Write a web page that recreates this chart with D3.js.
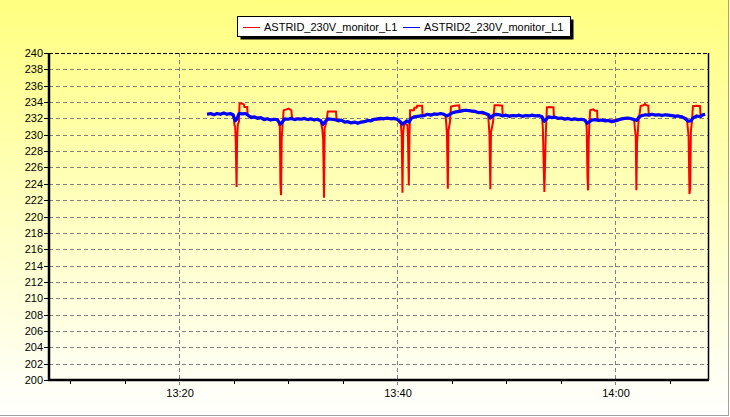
<!DOCTYPE html>
<html>
<head>
<meta charset="utf-8">
<script src="https://cdn.jsdelivr.net/npm/d3@7"></script>
<style>
  body { margin: 0; padding: 0; }
  svg { display: block; font-family: "Liberation Sans", Arial, sans-serif; }
</style>
</head>
<body>
<svg width="730" height="417"></svg>
<script>
// times are minutes after 13:00
var yTicks = [200,202,204,206,208,210,212,214,216,218,220,222,224,226,228,230,232,234,236,238,240];
var xTickLabels = ["13:20", "13:40", "14:00"];
var seriesNames = ["ASTRID_230V_monitor_L1", "ASTRID2_230V_monitor_L1"];
var seriesColors = ["#ff0000", "#0000ff"];

var redMin = [22.57,23.5,24.5,25.0,
  25.08,25.15,25.2,25.28,25.33,25.4,25.5,25.55,25.75,25.95,26.0,26.25,26.3,26.7,27.5,28.5,29.1,
  29.18,29.25,29.3,29.36,29.42,29.5,29.6,29.85,30.05,30.3,30.38,31.0,32.0,33.0,
  33.08,33.15,33.22,33.3,33.36,33.5,33.65,34.0,34.4,34.45,35.2,36.4,37.6,38.8,40.0,
  40.35,40.43,40.5,40.56,40.65,40.95,41.0,41.08,41.14,41.2,41.55,41.6,41.8,41.85,42.3,42.35,43.0,44.0,44.45,
  44.52,44.58,44.66,44.72,44.85,44.95,45.3,45.7,45.75,46.5,47.5,48.35,
  48.42,48.48,48.56,48.62,48.8,48.95,49.3,49.65,49.7,50.5,51.5,52.5,53.3,
  53.38,53.45,53.52,53.58,53.65,53.75,54.0,54.35,54.4,55.2,56.2,57.3,
  57.4,57.47,57.53,57.59,57.65,57.72,58.0,58.15,58.35,58.4,59.2,60.2,61.0,61.75,
  61.82,61.9,61.96,62.02,62.15,62.35,62.6,62.75,62.9,63.05,63.1,64.0,65.0,66.0,66.6,
  66.67,66.75,66.83,66.9,66.96,67.05,67.15,67.5,67.8,67.85,68.26];
var redV = [232.5,232.55,232.55,232.45,
  231.2,231.0,229.3,223.6,229.6,231.3,231.6,233.8,233.85,233.7,233.4,233.4,232.4,232.2,232.05,231.85,231.9,
  231.2,231.1,224.0,222.6,229.7,231.2,233.0,233.1,233.2,233.0,231.95,231.95,231.9,231.8,
  231.1,230.6,229.5,222.3,230.8,231.4,232.85,232.85,232.85,231.9,231.6,231.45,231.75,231.95,231.9,
  231.3,230.0,222.9,230.1,231.4,231.2,230.0,223.8,229.8,233.0,233.0,233.3,233.3,233.55,233.55,232.3,232.5,232.55,232.4,
  231.3,230.0,223.4,230.5,231.5,233.45,233.55,233.6,232.85,232.95,232.7,232.45,
  231.3,230.0,223.35,230.3,231.5,233.6,233.6,233.55,232.3,232.35,232.3,232.35,232.25,
  230.8,226.6,223.0,226.6,230.2,233.35,233.4,233.35,232.1,232.0,231.9,231.8,
  230.9,225.0,223.2,229.5,231.3,233.0,233.1,232.95,232.95,231.8,231.75,231.75,232.0,231.85,
  230.8,229.8,223.2,229.0,231.5,233.5,233.6,233.75,233.6,233.55,232.4,232.45,232.4,232.25,232.0,
  230.9,229.8,222.75,223.5,230.5,231.5,233.5,233.55,233.5,232.3,232.5];

var blueMin = [22.57,22.9,23.2,23.5,23.8,24.1,24.4,24.7,24.95,25.15,25.3,25.5,25.8,26.1,26.35,26.6,26.9,27.2,27.5,27.8,
  28.1,28.4,28.7,29.0,29.3,29.45,29.7,30.0,30.3,30.6,30.9,31.2,31.5,31.8,32.1,32.4,32.7,33.0,33.2,33.4,
  33.7,34.0,34.3,34.6,34.9,35.2,35.5,35.8,36.1,36.4,36.7,37.0,37.3,37.6,37.9,38.2,38.5,38.8,39.1,39.4,
  39.7,40.0,40.3,40.5,40.7,40.9,41.1,41.3,41.6,41.9,42.2,42.5,42.8,43.1,43.4,43.7,44.0,44.3,44.6,44.8,
  45.1,45.4,45.7,46.0,46.3,46.6,46.9,47.2,47.5,47.8,48.1,48.4,48.55,48.8,49.1,49.4,49.7,50.0,50.3,50.6,
  50.9,51.2,51.5,51.8,52.1,52.4,52.7,53.0,53.3,53.5,53.7,53.9,54.2,54.5,54.8,55.1,55.4,55.7,56.0,56.3,
  56.6,56.9,57.2,57.45,57.65,57.9,58.2,58.5,58.8,59.1,59.4,59.7,60.0,60.3,60.6,60.9,61.2,61.5,61.8,62.0,
  62.2,62.5,62.8,63.1,63.4,63.7,64.0,64.3,64.6,64.9,65.2,65.5,65.8,66.1,66.4,66.7,66.95,67.2,67.5,67.8,
  68.0,68.26];
var blueV = [232.5,232.6,232.45,232.6,232.5,232.65,232.5,232.6,232.45,231.7,231.9,232.6,232.55,232.6,232.35,232.1,232.2,232.0,232.1,231.85,
  231.95,231.8,231.9,231.85,231.3,231.5,231.95,231.9,232.0,231.85,231.95,231.9,232.0,231.85,231.95,231.8,231.9,231.7,231.25,231.6,
  231.95,231.9,231.85,231.7,231.8,231.55,231.6,231.45,231.55,231.4,231.55,231.6,231.75,231.7,231.9,231.95,232.0,231.95,232.05,231.95,
  232.0,231.9,231.6,231.3,231.5,231.7,231.55,232.0,232.2,232.25,232.3,232.35,232.5,232.4,232.55,232.5,232.6,232.5,232.3,232.45,
  232.7,232.8,232.85,232.95,233.0,232.95,232.9,232.85,232.7,232.75,232.6,232.45,232.05,232.35,232.5,232.45,232.3,232.4,232.25,232.35,
  232.3,232.4,232.25,232.35,232.3,232.4,232.3,232.35,232.2,231.65,231.9,232.2,232.1,232.15,232.0,232.05,231.9,232.0,231.85,231.95,
  231.85,231.9,231.8,231.4,231.6,231.8,231.85,231.75,231.8,231.7,231.75,231.6,231.7,231.8,231.95,232.0,232.05,231.95,231.85,231.75,
  232.2,232.35,232.45,232.4,232.5,232.4,232.45,232.35,232.45,232.4,232.35,232.25,232.3,232.2,232.0,231.65,231.7,232.1,232.3,232.2,
  232.4,232.5];

var W = 730, H = 417;
var margin = {top: 53, right: 22, bottom: 37, left: 49};
var base = new Date(2020, 0, 1, 13, 0, 0);
function toDate(m) { return new Date(base.getTime() + m * 60000); }

var x = d3.scaleTime()
  .domain([toDate(8.07), toDate(68.53)])
  .range([margin.left, W - margin.right]);
var y = d3.scaleLinear()
  .domain([200, 240])
  .range([H - margin.bottom, margin.top]);

var svg = d3.select("svg");
var defs = svg.append("defs");
var bg = defs.append("linearGradient").attr("id", "bg").attr("x1", 0).attr("y1", 0).attr("x2", 0).attr("y2", 1);
bg.append("stop").attr("offset", "0%").attr("stop-color", "#ffff80");
bg.append("stop").attr("offset", "100%").attr("stop-color", "#ffffff");

svg.append("rect").attr("width", W).attr("height", H).attr("fill", "url(#bg)");
// outer frame (right / bottom)
svg.append("line").attr("x1", 0).attr("x2", 729).attr("y1", 415.5).attr("y2", 415.5).attr("stroke", "#a0a0a0");
svg.append("line").attr("x1", 728.5).attr("x2", 728.5).attr("y1", 0).attr("y2", 416).attr("stroke", "#a0a0a0");

var x0 = margin.left, x1 = W - margin.right, yTop = margin.top, yBot = H - margin.bottom;

// horizontal grid
svg.append("g").selectAll("line")
  .data(yTicks.filter(function(v) { return v > 200 && v < 240; }))
  .enter().append("line")
  .attr("x1", x0).attr("x2", x1)
  .attr("y1", function(d) { return Math.round(y(d)) + 0.5; })
  .attr("y2", function(d) { return Math.round(y(d)) + 0.5; })
  .attr("stroke", "#808080").attr("stroke-dasharray", "4,3");

// vertical grid at labelled minutes
var majorTicks = x.ticks(d3.timeMinute.every(20));
svg.append("g").selectAll("line")
  .data(majorTicks)
  .enter().append("line")
  .attr("x1", function(d) { return Math.round(x(d)) + 0.5; })
  .attr("x2", function(d) { return Math.round(x(d)) + 0.5; })
  .attr("y1", yTop).attr("y2", yBot + 5)
  .attr("stroke", "#808080").attr("stroke-dasharray", "4,3");

// minor x ticks
svg.append("g").selectAll("line")
  .data(x.ticks(d3.timeMinute.every(5)).filter(function(d) { return d.getMinutes() % 20 !== 0; }))
  .enter().append("line")
  .attr("x1", function(d) { return Math.round(x(d)) + 0.5; })
  .attr("x2", function(d) { return Math.round(x(d)) + 0.5; })
  .attr("y1", yBot).attr("y2", yBot + 4)
  .attr("stroke", "#000");

// series
var line = d3.line()
  .x(function(d) { return x(toDate(d[0])); })
  .y(function(d) { return y(d[1]); });

var redData = redMin.map(function(m, i) { return [m, redV[i]]; });
var blueData = blueMin.map(function(m, i) { return [m, blueV[i]]; });

svg.append("path").datum(redData)
  .attr("d", line).attr("fill", "none")
  .attr("stroke", seriesColors[0]).attr("stroke-width", 2)
  .attr("stroke-linejoin", "miter");
svg.append("path").datum(blueData)
  .attr("d", line).attr("fill", "none")
  .attr("stroke", seriesColors[1]).attr("stroke-width", 3.2)
  .attr("stroke-linejoin", "round");

// frame
svg.append("line").attr("x1", x0).attr("x2", x1).attr("y1", yTop + 0.5).attr("y2", yTop + 0.5)
  .attr("stroke", "#000").attr("stroke-dasharray", "4,2");
svg.append("line").attr("x1", x1 + 0.5).attr("x2", x1 + 0.5).attr("y1", yTop).attr("y2", yBot)
  .attr("stroke", "#000").attr("stroke-width", 1.5);
svg.append("line").attr("x1", x0).attr("x2", x0).attr("y1", yTop).attr("y2", yBot + 1)
  .attr("stroke", "#000").attr("stroke-width", 2.5);
svg.append("line").attr("x1", x0 - 1).attr("x2", x1 + 1).attr("y1", yBot).attr("y2", yBot)
  .attr("stroke", "#000").attr("stroke-width", 2.5);

// y ticks and labels
var yAxis = svg.append("g");
yAxis.selectAll("line").data(yTicks).enter().append("line")
  .attr("x1", x0 - 5).attr("x2", x0)
  .attr("y1", function(d) { return Math.round(y(d)) + 0.5; })
  .attr("y2", function(d) { return Math.round(y(d)) + 0.5; })
  .attr("stroke", "#000");
yAxis.selectAll("text").data(yTicks).enter().append("text")
  .attr("x", x0 - 6)
  .attr("y", function(d) { return y(d) + 4; })
  .attr("text-anchor", "end")
  .attr("font-size", 11)
  .attr("fill", "#000")
  .text(function(d) { return d; });

// x labels
svg.append("g").selectAll("text").data(majorTicks).enter().append("text")
  .attr("x", function(d) { return x(d) + 1; })
  .attr("y", yBot + 17)
  .attr("text-anchor", "middle")
  .attr("font-size", 11)
  .attr("fill", "#000")
  .text(function(d, i) { return xTickLabels[i]; });

// legend
var lg = svg.append("g");
lg.append("rect").attr("x", 240.5).attr("y", 19.5).attr("width", 333).attr("height", 20).attr("fill", "#000");
lg.append("rect").attr("x", 237.5).attr("y", 16.5).attr("width", 333).attr("height", 20)
  .attr("fill", "#fff").attr("stroke", "#000");
var legendX = [243, 403];
seriesNames.forEach(function(name, i) {
  lg.append("line").attr("x1", legendX[i]).attr("x2", legendX[i] + 17)
    .attr("y1", 27.5).attr("y2", 27.5).attr("stroke", seriesColors[i]);
  lg.append("text").attr("x", legendX[i] + 21).attr("y", 31)
    .attr("font-size", 11).attr("fill", "#000").text(name);
});
</script>
</body>
</html>
